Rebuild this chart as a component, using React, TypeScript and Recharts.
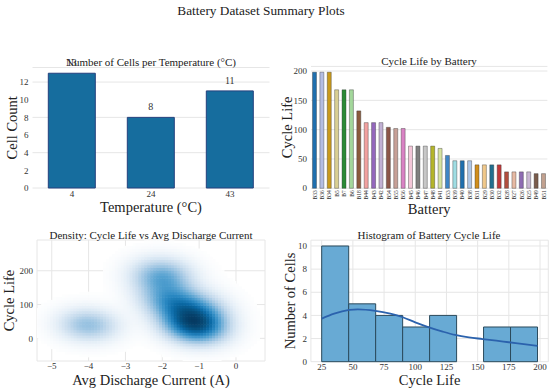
import React from 'react';
import {
  BarChart, Bar, XAxis, YAxis, CartesianGrid, Cell, LabelList,
  ScatterChart, Scatter, ComposedChart, Line,
} from 'recharts';

const FONT = '"Liberation Serif", "Times New Roman", serif';
const TICK = { fontSize: 9, fill: '#333', fontFamily: FONT };
const AXIS_LABEL = { fontSize: 14.5, fill: '#222', fontFamily: FONT };

// cells per temperature
const temperatures = ['4', '24', '43'];
const cellCounts = [13, 8, 11];

// cycle life by battery (sorted as in the plot)
const batteries = [
  'B33', 'B36', 'B34', 'B5', 'B7', 'B6', 'B18', 'B44', 'B43', 'B42', 'B54', 'B55', 'B56', 'B45', 'B46', 'B47',
  'B48', 'B41', 'B53', 'B39', 'B40', 'B38', 'B31', 'B29', 'B30', 'B32', 'B28', 'B27', 'B26', 'B25', 'B49', 'B51',
];
const cycleLife = [
  198, 198, 198, 168, 168, 168, 132, 112, 112, 112, 104, 102, 102, 72, 72, 72,
  72, 68, 56, 47, 47, 47, 40, 40, 40, 40, 28, 28, 28, 28, 25, 25,
];
// average discharge current (A), same order as batteries
const avgCurrent = [
  -2.1, -2.0, -1.9, -2.0, -2.0, -2.0, -1.9, -1.8, -1.8, -1.0, -1.7, -1.6, -1.6, -1.0, -1.0, -1.0,
  -1.0, -1.4, -1.2, -1.3, -1.3, -1.3, -4.0, -4.0, -4.0, -4.0, -1.0, -1.0, -1.0, -1.0, -1.0, -1.0,
];
const batteryColors = [
  '#1f6fae', '#b4bde3', '#c99a1c', '#d9cf93', '#2b8a36', '#a3d79b', '#8b5a3c', '#f2a1a0',
  '#9467bd', '#c2b1d4', '#8c5648', '#c7a097', '#d982c4', '#f3c6d8', '#7f7f7f', '#c7c7c7',
  '#b4b52a', '#d6e3a0', '#3f86c6', '#9fdde3', '#1f6fae', '#aec7e8', '#d08e1c', '#f0c88a',
  '#216f8f', '#c0393a', '#b24e3e', '#e6b9a3', '#8e6cb3', '#c9b8d4', '#7a5c4b', '#c2a18f',
];

// histogram of cycle life
const binEdges = [25, 46.6, 68.3, 89.9, 111.5, 133.1, 154.8, 176.4, 198];
const binCounts = [10, 5, 4, 3, 4, 0, 3, 3];
const kdeX = [25, 35, 47, 54, 68, 80, 90, 100, 111, 122, 132, 143, 154, 165, 175, 187, 198];
const kdeY = [3.72, 4.15, 4.47, 4.53, 4.4, 4.15, 3.84, 3.4, 2.97, 2.6, 2.31, 2.1, 1.96, 1.82, 1.68, 1.52, 1.36];

const tempData = temperatures.map((t, i) => ({ temp: t, count: cellCounts[i] }));
const batteryData = batteries.map((b, i) => ({ name: b, life: cycleLife[i] }));
const histData = binCounts.map((c, i) => ({ bin: `${binEdges[i]}-${binEdges[i + 1]}`, count: c }));
const kdeData = kdeX.map((x, i) => ({ life: x, kde: kdeY[i] }));

// density plot frame
const DX_DOMAIN: [number, number] = [-5.4, 0.787];
const DY_DOMAIN: [number, number] = [-67, 291];
const D_PLOT_W = 228;
const D_PLOT_H = 121;
const GX = 0.08;
const GY = 8;

// white -> light blue -> dark navy
const RAMP = ['#ffffff', '#e4eef7', '#c3d9ec', '#94c0e0', '#5aa4d2', '#2a88c2', '#0b6aa6', '#07517f', '#063a62'];
const hex = (h: string) => [1, 3, 5].map((k) => parseInt(h.slice(k, k + 2), 16));
function ramp(t: number) {
  const s = Math.max(0, Math.min(1, t)) * (RAMP.length - 1);
  const i = Math.min(Math.floor(s), RAMP.length - 2);
  const f = s - i;
  const a = hex(RAMP[i]);
  const b = hex(RAMP[i + 1]);
  const c = a.map((v, k) => Math.round(v + (b[k] - v) * f));
  return `rgb(${c[0]},${c[1]},${c[2]})`;
}

// gaussian kde (scott bandwidth, full covariance), like seaborn kdeplot
function buildDensity() {
  const n = avgCurrent.length;
  const mx = avgCurrent.reduce((s, v) => s + v, 0) / n;
  const my = cycleLife.reduce((s, v) => s + v, 0) / n;
  let sxx = 0, syy = 0, sxy = 0;
  for (let i = 0; i < n; i++) {
    const dx = avgCurrent[i] - mx;
    const dy = cycleLife[i] - my;
    sxx += dx * dx; syy += dy * dy; sxy += dx * dy;
  }
  const f2 = Math.pow(n, -1 / 3);
  const a = (sxx / (n - 1)) * f2;
  const d = (syy / (n - 1)) * f2;
  const b = (sxy / (n - 1)) * f2;
  const det = a * d - b * b;
  const ia = d / det, ib = -b / det, id = a / det;
  const cells: { x: number; y: number; v: number }[] = [];
  const nx = Math.round((DX_DOMAIN[1] - DX_DOMAIN[0]) / GX);
  const ny = Math.round((DY_DOMAIN[1] - DY_DOMAIN[0]) / GY);
  let max = 0;
  for (let i = 0; i <= nx; i++) {
    const gx = DX_DOMAIN[0] + i * GX;
    for (let j = 0; j <= ny; j++) {
      const gy = DY_DOMAIN[0] + j * GY;
      let s = 0;
      for (let k = 0; k < n; k++) {
        const dx = gx - avgCurrent[k];
        const dy = gy - cycleLife[k];
        s += Math.exp(-0.5 * (ia * dx * dx + 2 * ib * dx * dy + id * dy * dy));
      }
      if (s > max) max = s;
      cells.push({ x: gx, y: gy, v: s });
    }
  }
  return cells
    .map((c) => ({ ...c, v: c.v / max }))
    .filter((c) => c.v > 0.004)
    .map((c) => ({ x: c.x, y: c.y, fill: ramp(Math.pow(c.v, 0.85)) }));
}
const densityData = buildDensity();

const cellW = (GX * D_PLOT_W) / (DX_DOMAIN[1] - DX_DOMAIN[0]) + 0.6;
const cellH = (GY * D_PLOT_H) / (DY_DOMAIN[1] - DY_DOMAIN[0]) + 0.6;
const DensityCell = (p: any) => (
  <rect x={p.cx - cellW / 2} y={p.cy - cellH / 2} width={cellW} height={cellH} fill={p.payload.fill} />
);

const minus = (v: number) => (v < 0 ? `\u2212${Math.abs(v)}` : `${v}`);

const BatteryTick = ({ x, y, payload }: any) => (
  <text x={x} y={y} transform={`rotate(-90, ${x}, ${y})`} textAnchor="end" dy={2}
    fontSize={5.5} fill="#333" fontFamily={FONT}>{payload.value}</text>
);

const box = (left: number, top: number): React.CSSProperties => ({ position: 'absolute', left, top });

export default function App() {
  return (
    <div style={{ position: 'absolute', left: 0, top: 0, width: 550, height: 390, background: '#fff', fontFamily: FONT }}>
      <div style={box(0, 0)}>
        <BarChart width={275} height={220} data={tempData} margin={{ top: 67.5, right: 5.5, left: 0, bottom: 0 }} barCategoryGap="20%">
          <CartesianGrid vertical={false} stroke="#e6e6e6" />
          <XAxis dataKey="temp" height={32} axisLine={false} tickLine={false} tickSize={0} tickMargin={3} tick={TICK}
            label={{ value: 'Temperature (°C)', position: 'insideBottom', offset: 8, style: AXIS_LABEL }} />
          <YAxis width={32.5} domain={[0, 13.65]} ticks={[0, 2, 4, 6, 8, 10, 12]} axisLine={false} tickLine={false}
            tickSize={0} tickMargin={4} tick={TICK}
            label={{ value: 'Cell Count', angle: -90, position: 'insideLeft', offset: 12, style: { ...AXIS_LABEL, textAnchor: 'middle' } }} />
          <Bar dataKey="count" fill="#166d9e" stroke="#24407e" strokeWidth={1} isAnimationActive={false}>
            <LabelList dataKey="count" position="top" offset={7} style={{ fontSize: 10, fill: '#333', fontFamily: FONT }} />
          </Bar>
        </BarChart>
      </div>

      <div style={box(275, 0)}>
        <BarChart width={275} height={220} data={batteryData} margin={{ top: 66.4, right: 2.6, left: 0, bottom: 0 }} barCategoryGap="20%">
          <CartesianGrid vertical={false} stroke="#e6e6e6" />
          <XAxis dataKey="name" height={31.7} interval={0} axisLine={false} tickLine={false} tickSize={0} tickMargin={2}
            tick={<BatteryTick />}
            label={{ value: 'Battery', position: 'insideBottom', offset: 6, style: AXIS_LABEL }} />
          <YAxis width={36} domain={[0, 207.9]} ticks={[0, 50, 100, 150, 200]} axisLine={false} tickLine={false}
            tickSize={0} tickMargin={4} tick={TICK}
            label={{ value: 'Cycle Life', angle: -90, position: 'insideLeft', offset: 11.7, style: { ...AXIS_LABEL, textAnchor: 'middle' } }} />
          <Bar dataKey="life" stroke="rgba(50,50,50,0.55)" strokeWidth={0.7} isAnimationActive={false}>
            {batteryData.map((d, i) => <Cell key={d.name} fill={batteryColors[i]} />)}
          </Bar>
        </BarChart>
      </div>

      <div style={box(0, 220)}>
        <ScatterChart width={275} height={170} margin={{ top: 20, right: 10, left: 0, bottom: 0 }}>
          <CartesianGrid stroke="#e6e6e6" />
          <XAxis type="number" dataKey="x" domain={DX_DOMAIN} ticks={[-5, -4, -3, -2, -1, 0]} height={29}
            allowDataOverflow axisLine={false} tickLine={false} tickSize={0} tickMargin={2} tick={TICK} tickFormatter={minus}
            label={{ value: 'Avg Discharge Current (A)', position: 'insideBottom', offset: 5, style: AXIS_LABEL }} />
          <YAxis type="number" dataKey="y" domain={DY_DOMAIN} ticks={[0, 100, 200]} width={37}
            allowDataOverflow axisLine={false} tickLine={false} tickSize={0} tickMargin={4} tick={TICK}
            label={{ value: 'Cycle Life', angle: -90, position: 'insideLeft', offset: 9, style: { ...AXIS_LABEL, textAnchor: 'middle' } }} />
          <Scatter data={densityData} shape={DensityCell} isAnimationActive={false} />
        </ScatterChart>
      </div>

      <div style={box(275, 220)}>
        <ComposedChart width={275} height={170} data={histData} margin={{ top: 20.2, right: 1.7, left: 0, bottom: 0 }}
          barCategoryGap={0} barGap={0}>
          <CartesianGrid stroke="#e6e6e6" xAxisId="life" />
          <XAxis xAxisId="bins" dataKey="bin" hide height={0} padding={{ left: 10.8, right: 10.8 }} />
          <XAxis xAxisId="life" type="number" dataKey="life" domain={[16.35, 206.65]} ticks={[25, 50, 75, 100, 125, 150, 175, 200]} height={28.3}
            allowDataOverflow axisLine={false} tickLine={false} tickSize={0} tickMargin={2} tick={TICK}
            label={{ value: 'Cycle Life', position: 'insideBottom', offset: 5, style: AXIS_LABEL }} />
          <YAxis domain={[0, 10.5]} ticks={[0, 2, 4, 6, 8, 10]} width={35.9} axisLine={false} tickLine={false}
            tickSize={0} tickMargin={4} tick={TICK}
            label={{ value: 'Number of Cells', angle: -90, position: 'insideLeft', offset: 15, style: { ...AXIS_LABEL, textAnchor: 'middle' } }} />
          <Bar xAxisId="bins" dataKey="count" fill="#68aad4" stroke="#2b4a5c" strokeWidth={1} isAnimationActive={false} />
          <Line xAxisId="life" data={kdeData} dataKey="kde" type="monotone" stroke="#2b62ad" strokeWidth={1.8} dot={false} isAnimationActive={false} />
        </ComposedChart>
      </div>

      <svg width={550} height={390} style={{ position: 'absolute', left: 0, top: 0, pointerEvents: 'none' }}>
        <g fontFamily={FONT} textAnchor="middle" fill="#222">
          <text x={261} y={14.5} fontSize={13.3}>Battery Dataset Summary Plots</text>
          <text x={151} y={65.5} fontSize={11}>Number of Cells per Temperature (°C)</text>
          <text x={429} y={64.5} fontSize={11}>Cycle Life by Battery</text>
          <text x={151} y={238.8} fontSize={11}>Density: Cycle Life vs Avg Discharge Current</text>
          <text x={429} y={238.8} fontSize={11}>Histogram of Battery Cycle Life</text>
        </g>
      </svg>
    </div>
  );
}
